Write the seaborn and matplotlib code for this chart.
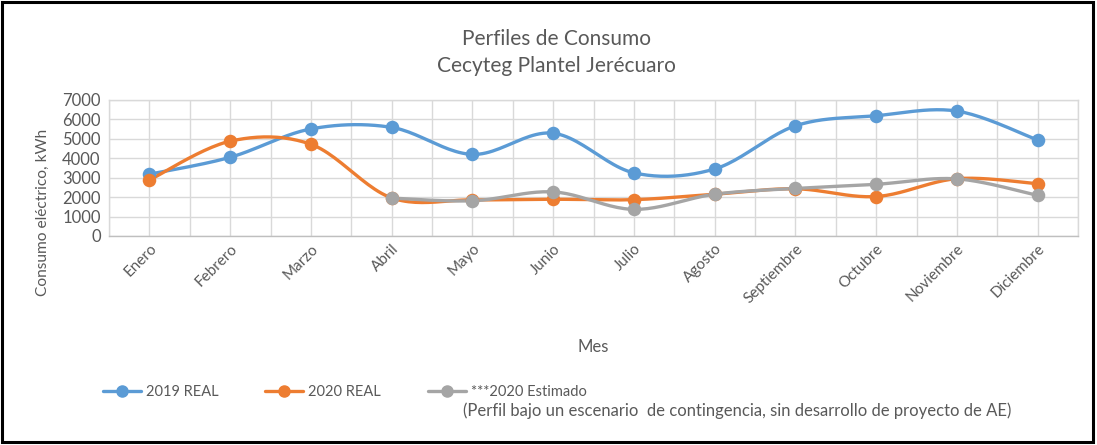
import numpy as np
import pandas as pd
import matplotlib
matplotlib.use("Agg")
import matplotlib.pyplot as plt
from matplotlib.lines import Line2D
from matplotlib.patches import Rectangle
import seaborn as sns

meses = ["Enero", "Febrero", "Marzo", "Abril", "Mayo", "Junio", "Julio",
         "Agosto", "Septiembre", "Octubre", "Noviembre", "Diciembre"]
real_2019 = [3180, 4050, 5510, 5590, 4200, 5290, 3250, 3450, 5670, 6190, 6430, 4940]
real_2020 = [2880, 4880, 4720, 1960, 1860, 1890, 1870, 2150, 2430, 2030, 2950, 2690]
estimado_meses = meses[3:]
estimado_2020 = [1950, 1810, 2270, 1370, 2150, 2450, 2660, 2940, 2090]

labels = ["2019 REAL", "2020 REAL", "***2020 Estimado"]
nota = "(Perfil bajo un escenario  de contingencia, sin desarrollo de proyecto de AE)"
colors = ["#5B9BD5", "#ED7D31", "#A5A5A5"]

sns.set_style("white")
plt.rcParams["font.family"] = ["Lato", "DejaVu Sans"]


def smooth(x, y, n=24):
    """Catmull-Rom (Excel-like) smoothing between data points for drawing."""
    x = np.asarray(x, float)
    y = np.asarray(y, float)
    px = np.concatenate([[x[0]], x, [x[-1]]])
    py = np.concatenate([[y[0]], y, [y[-1]]])
    xs, ys = [], []
    for i in range(1, len(px) - 2):
        p0, p1, p2, p3 = (np.array([px[j], py[j]]) for j in (i - 1, i, i + 1, i + 2))
        c1 = p1 + (p2 - p0) / 6
        c2 = p2 - (p3 - p1) / 6
        t = np.linspace(0, 1, n, endpoint=(i == len(px) - 3))[:, None]
        b = ((1 - t) ** 3) * p1 + 3 * ((1 - t) ** 2) * t * c1 + 3 * (1 - t) * t ** 2 * c2 + t ** 3 * p2
        xs.append(b[:, 0])
        ys.append(b[:, 1])
    return np.concatenate(xs), np.concatenate(ys)


fig = plt.figure(figsize=(10.97, 4.45), dpi=100)
ax = fig.add_axes([0.0994, 0.4697, 0.8833, 0.3056])

idx = {m: i for i, m in enumerate(meses)}
series = [
    (labels[0], [idx[m] for m in meses], real_2019, colors[0]),
    (labels[1], [idx[m] for m in meses], real_2020, colors[1]),
    (labels[2], [idx[m] for m in estimado_meses], estimado_2020, colors[2]),
]
for name, xv, yv, c in series:
    sx, sy = smooth(xv, yv)
    sns.lineplot(x=sx, y=sy, sort=False, estimator=None, color=c, lw=2.4, ax=ax, zorder=3)
    df = pd.DataFrame({"x": xv, "y": yv})
    sns.scatterplot(data=df, x="x", y="y", color=c, s=95, edgecolor=c, linewidth=0, ax=ax, zorder=4)

ax.set_xlim(-0.5, 11.5)
ax.set_ylim(0, 7000)
ax.set_yticks(range(0, 7001, 1000))
ax.set_xticks(range(12))
ax.set_xticks(np.arange(-0.5, 12, 1.0), minor=True)
ax.set_xticklabels(meses, rotation=45, ha="right", rotation_mode="anchor", fontsize=11, color="#595959")
ax.tick_params(axis="y", labelsize=12, labelcolor="#595959", length=0, pad=6)
ax.tick_params(axis="x", which="both", length=0, pad=4)
ax.grid(True, which="major", axis="both", color="#D9D9D9", lw=1)
ax.grid(True, which="minor", axis="x", color="#D9D9D9", lw=1)
for s in ax.spines.values():
    s.set_color("#D9D9D9")
    s.set_linewidth(1)
ax.spines["bottom"].set_color("#BFBFBF")
ax.set_axisbelow(True)

ax.set_xlabel("Mes", fontsize=12, color="#595959", labelpad=24)
ax.set_ylabel("Consumo eléctrico, kWh", fontsize=11.2, color="#595959")
ax.yaxis.set_label_coords(-0.061, 0.176)

fig.text(0.5069, 0.913, "Perfiles de Consumo", ha="center", va="center", fontsize=15, color="#595959")
fig.text(0.5069, 0.851, "Cecyteg Plantel Jerécuaro", ha="center", va="center", fontsize=15, color="#595959")

handles = [Line2D([0], [0], color=c, lw=2.4, marker="o", markersize=8) for c in colors]
fig.legend(handles, labels, loc="center left", bbox_to_anchor=(0.082, 0.118), ncol=3,
           frameon=False, fontsize=10.5, handlelength=2.6, handletextpad=0.35,
           columnspacing=3.2, labelcolor="#595959")
fig.text(0.422, 0.076, nota, ha="left", va="center", fontsize=12, color="#595959")

fig.patches.append(Rectangle((0.0015, 0.006), 0.995, 0.99, transform=fig.transFigure,
                             fill=False, edgecolor="black", lw=2.2))

fig.savefig("out.png", dpi=100)
